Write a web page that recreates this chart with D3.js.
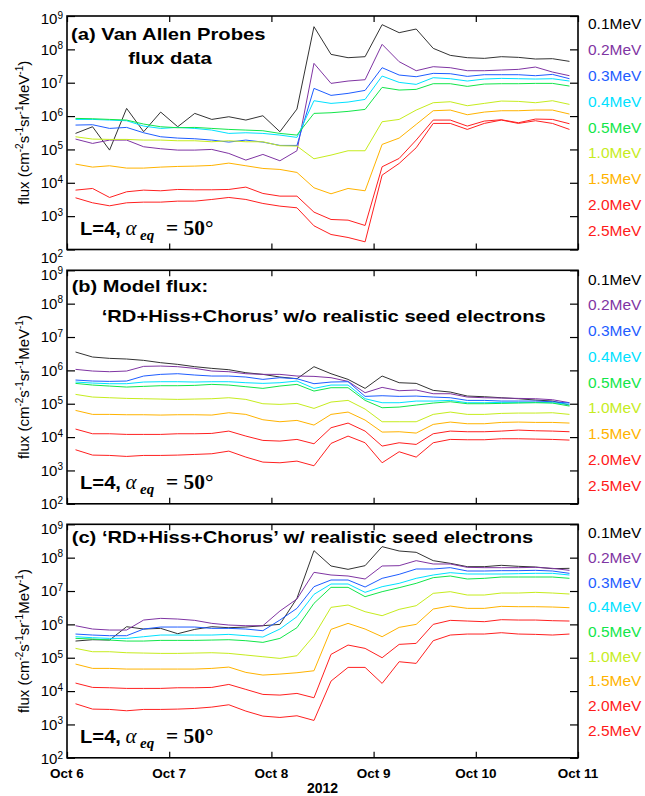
<!DOCTYPE html>
<html><head><meta charset="utf-8">
<script src="https://cdn.jsdelivr.net/npm/d3@7"></script>
<style>body{margin:0;background:#fff}svg{display:block}</style>
</head><body><svg id="chart" width="645" height="796"></svg>
<script>
// time of each sample, hours after Oct 6 00:00 (2012)
const hours = [2,6,10,14,18,22,26,30,34,38,42,46,50,54,58,62,66,70,74,78,82,86,90,94,98,102,106,110,114,118];
const dayTicks = [0,24,48,72,96,120];
const dayLabels = ["Oct 6","Oct 7","Oct 8","Oct 9","Oct 10","Oct 11"];
const yExponents = [2,3,4,5,6,7,8,9];
const energies = ["0.1MeV","0.2MeV","0.3MeV","0.4MeV","0.5MeV","1.0MeV","1.5MeV","2.0MeV","2.5MeV"];

// (a) Van Allen Probes data, log10 flux
const a01=[5.48,5.68,4.98,6.23,5.53,6.12,5.68,6.08,5.90,5.98,5.88,6.01,5.53,6.21,8.68,7.85,7.75,7.78,8.74,8.50,8.61,8.03,7.82,7.75,7.73,7.78,7.76,7.71,7.72,7.64];
const a02=[5.31,5.18,5.28,5.28,5.08,5.02,4.98,4.98,5.00,4.88,4.68,4.85,4.66,4.96,7.58,6.98,7.05,7.09,8.15,7.63,7.36,7.48,7.45,7.36,7.36,7.38,7.40,7.47,7.32,7.21];
const a03=[5.73,5.74,5.63,5.66,5.50,5.38,5.34,5.32,5.28,5.22,5.28,5.22,5.12,5.12,6.83,6.62,6.68,6.77,7.45,7.23,7.18,7.28,7.27,7.19,7.24,7.24,7.24,7.21,7.25,7.12];
const a04=[5.90,5.90,5.88,5.86,5.70,5.63,5.66,5.63,5.58,5.48,5.50,5.48,5.43,5.36,6.46,6.38,6.42,6.50,7.20,7.01,6.95,7.15,7.12,7.05,7.11,7.13,7.12,7.11,7.12,7.05];
const a05=[5.93,5.92,5.90,5.88,5.76,5.68,5.65,5.66,5.63,5.60,5.58,5.56,5.48,5.43,6.08,6.10,6.14,6.20,6.86,6.78,6.80,6.97,6.97,6.89,6.96,6.97,6.97,6.98,6.98,6.90];
const a10=[5.38,5.31,5.30,5.30,5.28,5.28,5.26,5.26,5.23,5.26,5.23,5.23,5.11,5.10,4.72,4.83,4.96,4.96,5.83,5.90,6.18,6.40,6.43,6.31,6.38,6.45,6.44,6.40,6.46,6.35];
const a15=[4.56,4.47,4.51,4.44,4.44,4.47,4.49,4.50,4.52,4.59,4.51,4.43,4.40,4.31,3.85,3.67,3.83,3.76,5.15,5.34,5.75,6.16,6.18,6.04,6.12,6.16,6.16,6.18,6.18,6.06];
const a20=[3.78,3.83,3.56,3.73,3.78,3.76,3.80,3.79,3.79,3.80,3.87,3.68,3.60,3.60,3.12,2.90,2.88,2.72,4.48,4.73,5.28,5.88,5.88,5.70,5.85,5.89,5.80,5.91,5.90,5.77];
const a25=[3.55,3.40,3.31,3.40,3.42,3.42,3.45,3.45,3.50,3.56,3.50,3.38,3.30,3.25,2.71,2.45,2.36,2.23,4.23,4.58,5.05,5.78,5.78,5.60,5.78,5.88,5.78,5.86,5.78,5.60];

// (b) model w/o realistic seed electrons, log10 flux
const b01=[6.55,6.40,6.36,6.34,6.30,6.23,6.18,6.11,6.06,6.02,5.93,5.88,5.80,5.75,6.11,5.90,5.73,5.46,5.83,5.63,5.61,5.40,5.35,5.23,5.21,5.18,5.15,5.11,5.08,4.96];
const b02=[6.03,5.98,5.96,5.98,6.12,6.13,6.11,6.06,5.98,5.96,5.90,5.88,5.88,5.83,5.82,5.78,5.67,5.33,5.49,5.39,5.41,5.30,5.30,5.20,5.18,5.17,5.16,5.15,5.12,5.03];
const b03=[5.71,5.68,5.67,5.68,5.83,5.88,5.90,5.86,5.83,5.83,5.80,5.73,5.78,5.75,5.60,5.65,5.66,5.22,5.24,5.22,5.23,5.20,5.18,5.10,5.10,5.08,5.08,5.08,5.06,5.02];
const b04=[5.65,5.62,5.60,5.60,5.65,5.66,5.66,5.65,5.66,5.66,5.63,5.61,5.63,5.68,5.46,5.56,5.56,5.15,5.03,5.03,5.08,5.08,5.10,5.03,5.03,5.04,5.04,5.04,5.03,4.98];
const b05=[5.61,5.56,5.53,5.50,5.52,5.54,5.54,5.55,5.58,5.56,5.51,5.46,5.53,5.58,5.38,5.48,5.48,5.10,4.88,4.90,4.96,5.02,5.06,5.00,5.00,5.01,5.02,5.03,5.02,4.93];
const b10=[5.28,5.20,5.18,5.16,5.15,5.14,5.13,5.14,5.15,5.18,5.13,5.00,4.98,5.01,4.86,5.05,5.10,4.84,4.46,4.46,4.46,4.68,4.75,4.68,4.68,4.71,4.72,4.72,4.73,4.68];
const b15=[4.80,4.68,4.68,4.67,4.67,4.66,4.67,4.67,4.66,4.73,4.68,4.52,4.46,4.50,4.36,4.68,4.75,4.51,4.15,4.16,4.12,4.38,4.45,4.40,4.40,4.44,4.45,4.44,4.44,4.42];
const b20=[4.24,4.10,4.10,4.08,4.08,4.08,4.10,4.10,4.11,4.18,4.03,3.90,3.88,3.93,3.80,4.28,4.42,4.18,3.73,3.83,3.78,4.10,4.18,4.16,4.16,4.18,4.21,4.19,4.18,4.16];
const b25=[3.62,3.46,3.45,3.42,3.45,3.45,3.46,3.48,3.50,3.58,3.40,3.25,3.23,3.28,3.14,3.81,4.03,3.83,3.23,3.56,3.40,3.83,3.93,3.92,3.92,3.95,3.95,3.94,3.93,3.91];

// (c) model w/ realistic seed electrons, log10 flux
const c01=[5.50,5.54,5.53,5.93,5.86,5.88,5.72,5.85,5.93,5.90,5.92,5.96,6.00,6.78,8.21,7.75,7.65,7.76,8.33,8.20,8.16,7.91,7.83,7.73,7.73,7.77,7.74,7.72,7.67,7.68];
const c02=[5.96,5.86,5.83,5.83,6.13,6.18,6.16,6.12,6.03,5.98,5.96,5.96,6.40,6.76,7.56,7.48,7.45,7.36,7.75,7.76,7.91,7.81,7.81,7.71,7.70,7.70,7.70,7.71,7.68,7.62];
const c03=[5.71,5.68,5.66,5.66,5.86,5.92,5.92,5.92,5.88,5.88,5.86,5.81,6.13,6.48,7.13,7.33,7.33,7.12,7.38,7.50,7.66,7.66,7.70,7.60,7.60,7.61,7.61,7.62,7.60,7.53];
const c04=[5.63,5.60,5.58,5.58,5.63,5.68,5.68,5.68,5.68,5.70,5.66,5.62,5.86,6.23,6.90,7.21,7.21,6.96,7.13,7.23,7.38,7.48,7.55,7.51,7.51,7.51,7.52,7.53,7.53,7.48];
const c05=[5.58,5.56,5.53,5.50,5.50,5.52,5.52,5.52,5.53,5.54,5.51,5.46,5.58,5.90,6.63,7.11,7.11,6.83,6.98,7.10,7.23,7.40,7.45,7.36,7.38,7.42,7.42,7.42,7.42,7.38];
const c10=[5.28,5.18,5.18,5.15,5.14,5.13,5.13,5.14,5.15,5.13,5.08,5.03,4.98,5.06,5.66,6.51,6.58,6.38,6.26,6.45,6.56,6.93,6.98,6.88,6.88,6.94,6.94,6.96,6.94,6.91];
const c15=[4.81,4.68,4.68,4.66,4.66,4.66,4.66,4.66,4.68,4.72,4.56,4.48,4.51,4.55,4.61,5.85,6.03,5.86,5.63,5.91,6.00,6.46,6.55,6.48,6.48,6.54,6.53,6.53,6.52,6.50];
const c20=[4.24,4.11,4.10,4.08,4.08,4.08,4.10,4.10,4.11,4.20,4.05,3.90,3.88,3.93,3.80,5.10,5.38,5.28,5.00,5.40,5.43,6.00,6.12,6.10,6.08,6.14,6.13,6.13,6.11,6.10];
const c25=[3.62,3.46,3.45,3.41,3.45,3.45,3.46,3.48,3.52,3.59,3.40,3.25,3.21,3.26,3.12,4.30,4.71,4.71,4.23,4.88,4.83,5.51,5.68,5.71,5.71,5.75,5.71,5.70,5.68,5.71];

const lineColors = ["#333333","#7f35a3","#1e5dff","#00e1ff","#12e64a","#c6ec1e","#ffb300","#ff2020","#ff2020"];
const textColors = ["#000000","#7f35a3","#1e5dff","#00e1ff","#12e64a","#c6ec1e","#ffb300","#ff1a1a","#ff1a1a"];

const SANS = "'Liberation Sans', Arial, Helvetica, sans-serif";
const SERIF = "'Liberation Serif', 'Times New Roman', serif";

const panels = [
  {top:16,  series:[a01,a02,a03,a04,a05,a10,a15,a20,a25], leg0:7.4, legStep:25.9,
   titles:[{t:"(a) Van Allen Probes", x:71, dy:24, len:194.5},{t:"flux data", x:128.3, dy:47.5, len:83.4}],
   labShift:{9:3, 2:8}},
  {top:270.3, series:[b01,b02,b03,b04,b05,b10,b15,b20,b25], leg0:8.7, legStep:25.75,
   titles:[{t:"(b) Model flux:", x:71.7, dy:22, len:136.6},{t:"\u2018RD+Hiss+Chorus\u2019 w/o realistic seed electrons", x:101.7, dy:51.5, len:444}],
   labShift:{9:4, 2:0}},
  {top:524.3, series:[c01,c02,c03,c04,c05,c10,c15,c20,c25], leg0:8.4, legStep:24.7,
   titles:[{t:"(c) \u2018RD+Hiss+Chorus\u2019 w/ realistic seed electrons", x:71.7, dy:18.2, len:461.6}],
   labShift:{9:4.5, 2:1}}
];

const L = 67, R = 578, H = 233.5;
const svg = d3.select("#chart");
const x = d3.scaleLinear().domain([0,120]).range([L,R]);

panels.forEach((p, pi) => {
  const top = p.top, bot = top + H;
  const y = d3.scaleLog().domain([1e2,1e9]).range([bot, top]);
  const g = svg.append("g");

  // lines (drawn first, frame over them)
  const line = d3.line().x((d,i)=>x(hours[i])).y(d=>y(Math.pow(10,d)));
  p.series.forEach((s, si) => {
    g.append("path").datum(s).attr("d", line)
      .attr("fill","none").attr("stroke", lineColors[si]).attr("stroke-width",1)
      .attr("stroke-linejoin","miter");
  });

  const tickVals = yExponents.map(e=>Math.pow(10,e));
  const axL = g.append("g").attr("transform",`translate(${L},0)`)
    .call(d3.axisLeft(y).tickValues(tickVals).tickSize(-8).tickFormat(()=>""));
  const axR = g.append("g").attr("transform",`translate(${R},0)`)
    .call(d3.axisRight(y).tickValues(tickVals).tickSize(-8).tickFormat(()=>""));
  const axT = g.append("g").attr("transform",`translate(0,${top})`)
    .call(d3.axisTop(x).tickValues(dayTicks).tickSize(-6).tickFormat(()=>""));
  const axB = g.append("g").attr("transform",`translate(0,${bot})`)
    .call(d3.axisBottom(x).tickValues(dayTicks).tickSize(-6).tickFormat(()=>""));
  [axL,axR,axT,axB].forEach(a=>{ a.select(".domain").remove(); a.selectAll("line").attr("stroke","#000").attr("stroke-width",1.2); });

  g.append("rect").attr("x",L).attr("y",top).attr("width",R-L).attr("height",H)
    .attr("fill","none").attr("stroke","#000").attr("stroke-width",1.6);

  // y tick labels 10^n
  yExponents.forEach(e => {
    const shift = p.labShift[e] || 0;
    const t = g.append("text").attr("x",63).attr("y", y(Math.pow(10,e)) + 5.3 + shift)
      .attr("text-anchor","end").style("font-family",SANS).style("font-size","15px").attr("fill","#000");
    t.append("tspan").text("10");
    t.append("tspan").attr("dy",-5.5).style("font-size","10px").text(String(e));
  });

  // y axis title
  const yt = g.append("text").attr("transform",`translate(28.5,${(top+bot)/2}) rotate(-90)`)
    .attr("text-anchor","middle").style("font-family",SANS).style("font-size","15px").attr("fill","#000");
  const parts = [["flux (cm",0],["-2",1],["s",0],["-1",1],["sr",0],["-1",1],["MeV",0],["-1",1],[")",0]];
  let up = false;
  parts.forEach(([txt,sup])=>{
    const ts = yt.append("tspan").text(txt);
    if (sup) { ts.style("font-size","10px").attr("dy", up ? 0 : -6); up = true; }
    else { if (up) ts.attr("dy",6); up = false; }
  });

  // legend
  energies.forEach((en, i) => {
    g.append("text").attr("x",588).attr("y", top + p.leg0 + p.legStep*i + 5.5)
      .style("font-family",SANS).style("font-size","15.5px").attr("fill",textColors[i]).text(en);
  });

  // titles
  p.titles.forEach(tt => {
    g.append("text").attr("x",tt.x).attr("y",top+tt.dy)
      .attr("textLength",tt.len).attr("lengthAdjust","spacingAndGlyphs")
      .style("font-family",SANS).style("font-weight","bold").style("font-size","17px").attr("fill","#000").text(tt.t);
  });

  // L=4, alpha_eq = 50 deg
  const by = top + 218.5;
  g.append("text").attr("x",80).attr("y",by).attr("textLength",41).attr("lengthAdjust","spacingAndGlyphs")
    .style("font-family",SANS).style("font-weight","bold").style("font-size","18px").text("L=4,");
  g.append("text").attr("x",125.5).attr("y",by)
    .style("font-family",SERIF).style("font-style","italic").style("font-size","21px").text("\u03b1");
  g.append("text").attr("x",140).attr("y",by+5)
    .style("font-family",SERIF).style("font-style","italic").style("font-weight","bold").style("font-size","15px").text("eq");
  g.append("text").attr("x",166).attr("y",by).attr("textLength",47.5).attr("lengthAdjust","spacingAndGlyphs")
    .style("font-family",SERIF).style("font-weight","bold").style("font-size","20px").text("= 50\u00b0");

  // x labels on the bottom panel
  if (pi === panels.length-1) {
    dayTicks.forEach((d,i)=>{
      g.append("text").attr("x",x(d)).attr("y",bot+20.5).attr("text-anchor","middle")
        .style("font-family",SANS).style("font-weight","bold").style("font-size","13.5px").text(dayLabels[i]);
    });
    g.append("text").attr("x",(L+R)/2).attr("y",793).attr("text-anchor","middle")
      .style("font-family",SANS).style("font-weight","bold").style("font-size","14px").text("2012");
  }
});
</script></body></html>
